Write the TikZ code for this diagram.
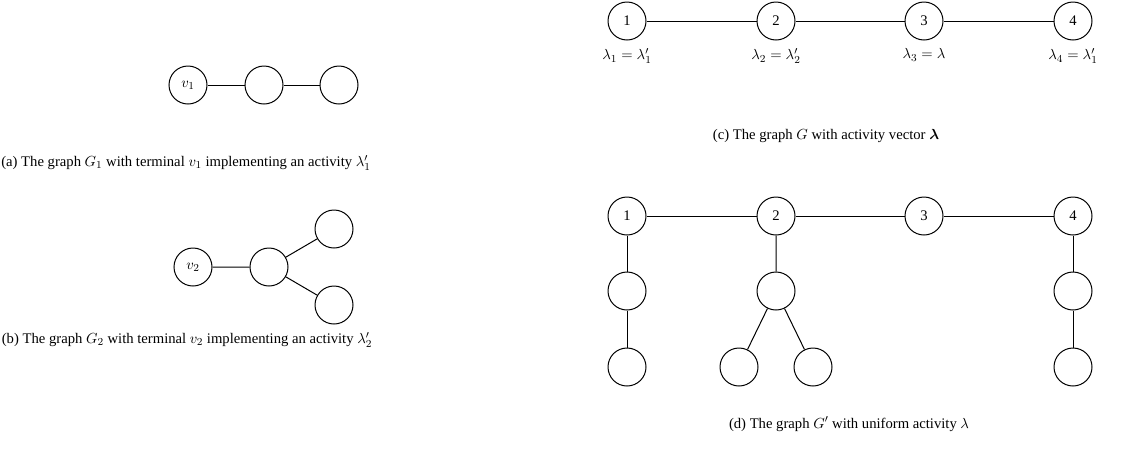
\documentclass[tikz,border=0pt]{standalone}
\usepackage{amsmath}
\usepackage{fontspec}
\setmainfont{Liberation Serif}
\usetikzlibrary{positioning}
\begin{document}
\begin{tikzpicture}[x=0.75pt,y=-0.75pt,
  font=\fontsize{11pt}{13pt}\selectfont,
  vtx/.style={draw,circle,minimum size=28.5pt,inner sep=0pt,line width=0.75pt},
  edge/.style={line width=0.75pt},
  lab/.style={inner sep=1pt},
  captxt/.style={inner sep=0pt}]
\useasboundingbox (0,0) rectangle (1122,458);
% (a)
\node[vtx] (a1) at (188,85) {$v_1$};
\node[vtx] (a2) at (264,85) {};
\node[vtx] (a3) at (339,85) {};
\draw[edge] (a1) -- (a2) (a2) -- (a3);
\node[captxt] (capa) at (186,163) {(a) The graph $G_1$ with terminal $v_1$ implementing an activity $\lambda'_1$};
% (b)
\node[vtx] (b1) at (193,267) {$v_2$};
\node[vtx] (b2) at (269,267) {};
\node[vtx] (b3) at (334,229) {};
\node[vtx] (b4) at (334,305) {};
\draw[edge] (b1) -- (b2) (b2) -- (b3) (b2) -- (b4);
\node[captxt] (capb) at (187,340) {(b) The graph $G_2$ with terminal $v_2$ implementing an activity $\lambda'_2$};
% (c)
\node[vtx] (c1) at (627,21) {1};
\node[vtx] (c2) at (776,21) {2};
\node[vtx] (c3) at (924,21) {3};
\node[vtx] (c4) at (1073,21) {4};
\draw[edge] (c1) -- (c2) (c2) -- (c3) (c3) -- (c4);
\node[lab, below=5pt of c1] (l1) {$\lambda_1=\lambda'_1$};
\node[lab, below=5pt of c2] (l2) {$\lambda_2=\lambda'_2$};
\node[lab, below=5pt of c3] (l3) {$\lambda_3=\lambda$};
\node[lab, below=5pt of c4] (l4) {$\lambda_4=\lambda'_1$};
\node[captxt] (capc) at (826,136) {(c) The graph $G$ with activity vector $\boldsymbol{\lambda}$};
% (d)
\node[vtx] (d1) at (627,216) {1};
\node[vtx] (d2) at (776,216) {2};
\node[vtx] (d3) at (924,216) {3};
\node[vtx] (d4) at (1073,216) {4};
\node[vtx] (e1) at (627,291) {};
\node[vtx] (f1) at (627,367) {};
\node[vtx] (e2) at (776,291) {};
\node[vtx] (f2) at (739,367) {};
\node[vtx] (g2) at (813,367) {};
\node[vtx] (e4) at (1073,291) {};
\node[vtx] (f4) at (1073,367) {};
\draw[edge] (d1) -- (d2) (d2) -- (d3) (d3) -- (d4);
\draw[edge] (d1) -- (e1) (e1) -- (f1);
\draw[edge] (d2) -- (e2) (e2) -- (f2) (e2) -- (g2);
\draw[edge] (d4) -- (e4) (e4) -- (f4);
\node[captxt] (capd) at (849,424) {(d) The graph $G'$ with uniform activity $\lambda$};
\end{tikzpicture}
\end{document}
